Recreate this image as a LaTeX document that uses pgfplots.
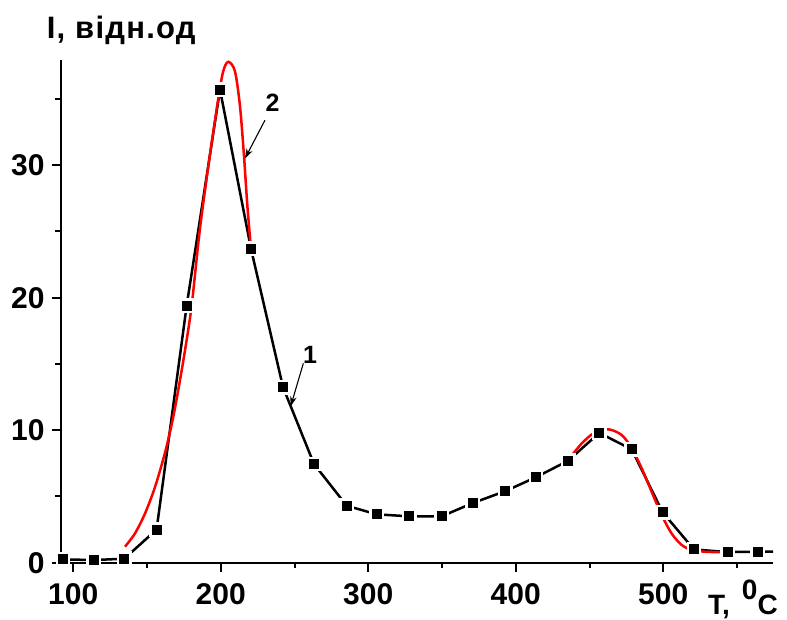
\documentclass[border=0pt]{standalone}
\usepackage{pgfplots}
\pgfplotsset{compat=1.18}
\usepackage{fontspec}
\setmainfont{Liberation Sans}
\usetikzlibrary{arrows.meta}

\begin{document}
\begin{tikzpicture}
\begin{axis}[
  at={(0,0)}, anchor=south west,
  scale only axis, width=712bp, height=502.7bp,
  xmin=91.7, xmax=574.4, ymin=0, ymax=37.94,
  axis lines*=left, axis on top,
  axis line style={line width=2.2bp},
  xtick={100,200,300,400,500}, minor xtick={150,250,350,450,550},
  ytick={0,10,20,30}, minor ytick={5,15,25,35},
  tick align=outside, major tick length=9bp, minor tick length=5.5bp,
  every tick/.style={black, line width=2bp},
  /pgf/number format/assume math mode=true,
  tick label style={font=\fontsize{30bp}{30bp}\selectfont\bfseries},
  xticklabel style={yshift=-8bp},
  yticklabel style={xshift=-4bp},
]
\addplot[black, line width=2.5bp, mark=square*, mark size=6.2bp,
  mark options={fill=black, draw=white, line width=2.4bp}] coordinates {
(93.0,0.25) (114.0,0.2) (134.6,0.3) (156.5,2.5) (176.9,19.4) (199.5,35.7)
(220.5,23.7) (242.2,13.25) (263.2,7.45) (285.4,4.3) (305.7,3.65) (327.8,3.5)
(349.8,3.5) (370.8,4.5) (392.9,5.4) (413.7,6.45) (435.6,7.7) (456.6,9.8)
(478.6,8.55) (499.6,3.8) (520.8,1.0) (543.7,0.8) (564.0,0.83) (585.3,0.85)};
\addplot[red, line width=2.5bp, smooth, tension=0.5] coordinates {
(135.1,1.21) (141.8,2.2) (148.6,3.7) (155.4,5.7) (162.2,8.3) (167.8,11.0)
(173.5,14.5) (178.0,17.6) (180.7,19.8) (185.9,25.2) (192.7,30.8) (198.3,35.0)
(201.7,37.1) (205.1,37.8) (209.6,37.1) (213.0,34.5) (215.7,30.8) (218.0,27.0)
(220.5,23.7)};
\addplot[red, line width=2.5bp, smooth, tension=0.5] coordinates {
(435.6,7.75) (444.7,9.0) (453.7,9.84) (462.7,10.07) (471.8,9.64) (478.6,8.63)
(485.4,7.12) (492.1,5.36) (498.9,3.6) (505.7,2.2) (512.5,1.34) (519.3,0.96)
(528.3,0.83) (541.8,0.78)};
\node[font=\fontsize{25bp}{25bp}\selectfont\bfseries] at (axis cs:235.1,34.7) {2};
\draw[-{Stealth[length=10bp,width=6.5bp]}, line width=1.1bp] (axis cs:230.0,33.4) -- (axis cs:216.4,30.5);
\node[font=\fontsize{25bp}{25bp}\selectfont\bfseries] at (axis cs:260.5,15.7) {1};
\draw[-{Stealth[length=10bp,width=6.5bp]}, line width=1.1bp] (axis cs:256.0,15.05) -- (axis cs:247.4,11.8);
\end{axis}
\node[anchor=base west, inner sep=0pt, font=\fontsize{31bp}{31bp}\selectfont\bfseries\addfontfeature{LetterSpace=4}] at (-14.3bp,523.7bp) {I, відн.од};
\node[anchor=base west, inner sep=0pt, font=\fontsize{28bp}{28bp}\selectfont\bfseries] at (647bp,-52.3bp) {T,\hspace{12bp}\raisebox{15bp}{0}C};
\useasboundingbox (-61bp,-56.3bp) rectangle (726bp,562.7bp);
\end{tikzpicture}
\end{document}
